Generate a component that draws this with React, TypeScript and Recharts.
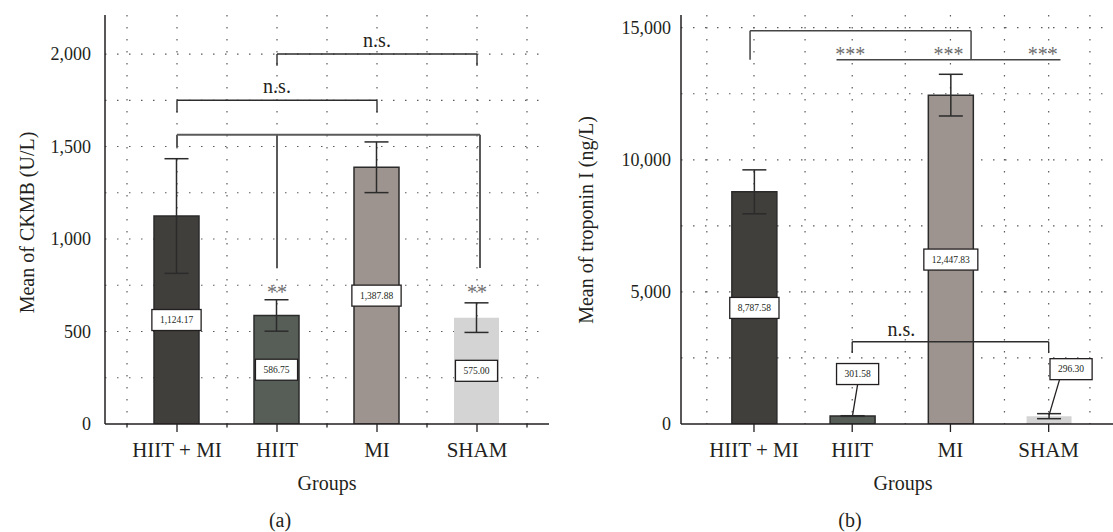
import React from 'react';
import {
  BarChart,
  Bar,
  XAxis,
  YAxis,
  CartesianGrid,
  ErrorBar,
  LabelList,
  ReferenceLine,
  ReferenceDot,
  Cell,
} from 'recharts';

const FONT = "'Liberation Serif', 'DejaVu Serif', serif";
const INK = '#231f20';

// groups and bar styling
const groups = ['HIIT + MI', 'HIIT', 'MI', 'SHAM'];
const groupPos = [0, 1, 2, 3];
const barColors = ['#403f3c', '#575e58', '#9d9490', '#d4d4d4'];
const barStrokes = ['#2b2b2b', '#2b2b2b', '#2b2b2b', 'none'];

// (a) CKMB
const ckmbMeans = [1124.17, 586.75, 1387.88, 575.0];
const ckmbErrors = [310, 85, 137, 80];
const ckmbTicks = [0, 500, 1000, 1500, 2000];
const ckmbGridY = [250, 500, 750, 1000, 1250, 1500, 1750, 2000];
const ckmbXTicks = [-0.5, 0, 0.5, 1, 1.5, 2, 2.5, 3, 3.5];

// (b) troponin I
const tropMeans = [8787.58, 301.58, 12447.83, 296.3];
const tropErrors = [832, 12, 789, 95];
const tropTicks = [0, 5000, 10000, 15000];
const tropGridY = [2500, 5000, 7500, 10000, 12500, 15000];
const tropXTicks = [0, 1, 2, 3];
const tropGridX = [-0.48, 0, 0.52, 1, 1.54, 2, 2.55, 3, 3.42];

type Bracket = { x1: number; x2: number; y: number; drops: number[][]; color: string; w: number };
type Mark = { x: number; y: number; text: string; color: string };
type Callout = { dx: number; dy: number; lx: number } | null;

const ckmbBrackets: Bracket[] = [
  { x1: 1, x2: 3, y: 2000, drops: [[1, 1937], [3, 1937]], color: '#2d2d2d', w: 1.4 },
  { x1: 0, x2: 2, y: 1750, drops: [[0, 1684], [2, 1684]], color: '#2d2d2d', w: 1.4 },
  { x1: 0, x2: 3.03, y: 1563, drops: [[0, 1495], [1, 843], [3.03, 843]], color: '#5a5a5a', w: 2 },
];
const ckmbMarks: Mark[] = [
  { x: 2, y: 2040, text: 'n.s.', color: INK },
  { x: 1, y: 1788, text: 'n.s.', color: INK },
  { x: 1, y: 676, text: '**', color: '#6d6d6d' },
  { x: 3, y: 676, text: '**', color: '#6d6d6d' },
];

const tropBrackets: Bracket[] = [
  { x1: -0.04, x2: 2.21, y: 14886, drops: [[-0.04, 13790], [2.21, 13790]], color: '#444', w: 1.5 },
  { x1: 0.84, x2: 3.12, y: 13790, drops: [], color: '#444', w: 1.5 },
  { x1: 1, x2: 3, y: 3113, drops: [[1, 2685], [3, 2685]], color: '#2d2d2d', w: 1.4 },
];
const tropMarks: Mark[] = [
  { x: 0.98, y: 13740, text: '***', color: '#6d6d6d' },
  { x: 1.98, y: 13740, text: '***', color: '#6d6d6d' },
  { x: 2.94, y: 13740, text: '***', color: '#6d6d6d' },
  { x: 1.5, y: 3340, text: 'n.s.', color: INK },
];

const ckmbCallouts: Callout[] = [null, null, null, null];
const tropCallouts: Callout[] = [null, { dx: 5, dy: -42, lx: 5 }, null, { dx: 22, dy: -47, lx: 10.5 }];

const ckmbData = groups.map((g, i) => ({ pos: groupPos[i], name: g, value: ckmbMeans[i], err: ckmbErrors[i] }));
const tropData = groups.map((g, i) => ({ pos: groupPos[i], name: g, value: tropMeans[i], err: tropErrors[i] }));

const fmt = (v: number) => v.toLocaleString('en-US', { minimumFractionDigits: 2, maximumFractionDigits: 2 });
const fmtTick = (v: number) => v.toLocaleString('en-US');

function boxWidth(text: string) {
  let w = 0;
  for (const ch of text) w += ch === ',' || ch === '.' ? 0.25 : 0.5;
  return w * 9.5 + 16;
}

function valueBox(means: number[], callouts: Callout[]) {
  return (props: any) => {
    const vb = props.viewBox && props.viewBox.width !== undefined ? props.viewBox : props;
    const x = Number(vb.x);
    const y = Number(vb.y);
    const width = Number(vb.width);
    const height = Number(vb.height);
    const i = props.index ?? means.indexOf(Number(props.value));
    const text = fmt(means[i]);
    const w = boxWidth(text);
    const h = 21;
    const cx = x + width / 2;
    const c = callouts[i];
    const bx = c ? cx + c.dx : cx;
    const by = c ? y + c.dy : y + height / 2;
    return (
      <g>
        {c && <line x1={cx} y1={y - 1} x2={cx + c.lx} y2={by + h / 2} stroke={INK} strokeWidth={1.3} />}
        <rect x={bx - w / 2} y={by - h / 2} width={w} height={h} fill="#fff" stroke={INK} strokeWidth={1.3} />
        <text x={bx} y={by + 3.3} textAnchor="middle" fontSize={9.5} fill={INK} fontFamily={FONT}>
          {text}
        </text>
      </g>
    );
  };
}

function GroupTick(props: any) {
  const { x, y, payload } = props;
  const v = payload.value;
  const major = Number.isInteger(v);
  return (
    <g>
      <line x1={x} y1={y} x2={x} y2={y + (major ? 8 : 3.5)} stroke={INK} strokeWidth={1.3} />
      {major && (
        <text x={x} y={y + 32.5} textAnchor="middle" fontSize={21} fill={INK} fontFamily={FONT}>
          {groups[v]}
        </text>
      )}
    </g>
  );
}

function brackets(list: Bracket[], prefix: string) {
  const out: React.ReactElement[] = [];
  list.forEach((b, i) => {
    out.push(
      <ReferenceLine
        key={`${prefix}h${i}`}
        segment={[{ x: b.x1, y: b.y }, { x: b.x2, y: b.y }]}
        stroke={b.color}
        strokeWidth={b.w}
        ifOverflow="visible"
      />
    );
    b.drops.forEach((d, j) => {
      out.push(
        <ReferenceLine
          key={`${prefix}d${i}-${j}`}
          segment={[{ x: d[0], y: b.y }, { x: d[0], y: d[1] }]}
          stroke={b.color}
          strokeWidth={b.w}
          ifOverflow="visible"
        />
      );
    });
  });
  return out;
}

function marks(list: Mark[], prefix: string) {
  return list.map((m, i) => (
    <ReferenceDot
      key={`${prefix}m${i}`}
      x={m.x}
      y={m.y}
      r={0}
      ifOverflow="visible"
      shape={(p: any) => (
        <text x={p.cx} y={p.cy} textAnchor="middle" fontSize={20} fill={m.color} fontFamily={FONT}>
          {m.text}
        </text>
      )}
    />
  ));
}

const axisLine = { stroke: INK, strokeWidth: 1.5 };
const yTick = { fontSize: 18, fill: INK, fontFamily: FONT };

export default function App() {
  return (
    <div
      style={{
        position: 'absolute',
        left: 0,
        top: 0,
        width: 1113,
        height: 532,
        overflow: 'hidden',
        background: '#fff',
        fontFamily: FONT,
      }}
    >
      <div style={{ position: 'absolute', left: 0, top: 0 }}>
        <BarChart width={560} height={532} data={ckmbData} margin={{ top: 15, right: 11, bottom: 0, left: 0 }}>
          <CartesianGrid
            horizontalValues={ckmbGridY}
            verticalValues={ckmbXTicks}
            stroke="#5a5a5a"
            strokeWidth={1.2}
            strokeDasharray="1.5 10.5"
          />
          <XAxis
            type="number"
            dataKey="pos"
            domain={[-0.72, 3.72]}
            ticks={ckmbXTicks}
            interval={0}
            tick={(p: any) => <GroupTick {...p} />}
            tickLine={false}
            tickSize={0}
            tickMargin={0}
            height={108}
            axisLine={axisLine}
            allowDataOverflow
            label={(p: any) => (
              <g>
                <text x={327} y={490} textAnchor="middle" fontSize={20} fill={INK} fontFamily={FONT}>
                  Groups
                </text>
                <text x={280} y={527} textAnchor="middle" fontSize={20} fill={INK} fontFamily={FONT}>
                  (a)
                </text>
              </g>
            )}
          />
          <YAxis
            type="number"
            domain={[0, 2211]}
            ticks={ckmbTicks}
            tickFormatter={fmtTick}
            width={105}
            tickLine={false}
            tickSize={0}
            tickMargin={14}
            tick={yTick}
            axisLine={axisLine}
            allowDataOverflow
            label={() => (
              <text
                transform="translate(33.5,222.5) rotate(-90)"
                textAnchor="middle"
                fontSize={20}
                fill={INK}
                fontFamily={FONT}
              >
                Mean of CKMB (U/L)
              </text>
            )}
          />
          <Bar dataKey="value" barSize={45} isAnimationActive={false}>
            {ckmbData.map((d, i) => (
              <Cell key={d.name} fill={barColors[i]} stroke={barStrokes[i]} strokeWidth={1.5} />
            ))}
            <ErrorBar dataKey="err" width={12} stroke="#2b2b2b" strokeWidth={1.5} direction="y" />
            <LabelList dataKey="value" content={valueBox(ckmbMeans, ckmbCallouts)} />
          </Bar>
          {brackets(ckmbBrackets, 'c')}
          {marks(ckmbMarks, 'c')}
        </BarChart>
      </div>

      <div style={{ position: 'absolute', left: 560, top: 0 }}>
        <BarChart width={580} height={532} data={tropData} margin={{ top: 15, right: 15, bottom: 0, left: 0 }}>
          <CartesianGrid
            horizontalValues={tropGridY}
            verticalValues={tropGridX}
            stroke="#5a5a5a"
            strokeWidth={1.2}
            strokeDasharray="1.5 10.5"
          />
          <XAxis
            type="number"
            dataKey="pos"
            domain={[-0.743, 3.777]}
            ticks={tropXTicks}
            interval={0}
            tick={(p: any) => <GroupTick {...p} />}
            tickLine={false}
            tickSize={0}
            tickMargin={0}
            height={108}
            axisLine={axisLine}
            allowDataOverflow
            label={() => (
              <g>
                <text x={343} y={490} textAnchor="middle" fontSize={20} fill={INK} fontFamily={FONT}>
                  Groups
                </text>
                <text x={290} y={527} textAnchor="middle" fontSize={20} fill={INK} fontFamily={FONT}>
                  (b)
                </text>
              </g>
            )}
          />
          <YAxis
            type="number"
            domain={[0, 15481]}
            ticks={tropTicks}
            tickFormatter={fmtTick}
            width={121}
            tickLine={false}
            tickSize={0}
            tickMargin={10}
            tick={yTick}
            axisLine={axisLine}
            allowDataOverflow
            label={() => (
              <text
                transform="translate(33,220) rotate(-90)"
                textAnchor="middle"
                fontSize={20}
                fill={INK}
                fontFamily={FONT}
              >
                Mean of troponin I (ng/L)
              </text>
            )}
          />
          <Bar dataKey="value" barSize={45} isAnimationActive={false}>
            {tropData.map((d, i) => (
              <Cell key={d.name} fill={barColors[i]} stroke={barStrokes[i]} strokeWidth={1.5} />
            ))}
            <ErrorBar dataKey="err" width={12} stroke="#2b2b2b" strokeWidth={1.5} direction="y" />
            <LabelList dataKey="value" content={valueBox(tropMeans, tropCallouts)} />
          </Bar>
          {brackets(tropBrackets, 't')}
          {marks(tropMarks, 't')}
        </BarChart>
      </div>
    </div>
  );
}
